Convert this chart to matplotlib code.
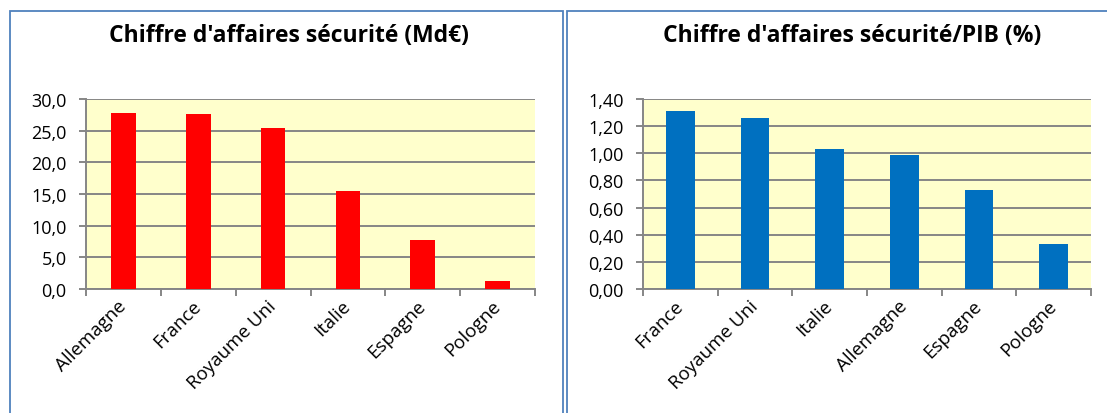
import matplotlib
matplotlib.use('Agg')
import matplotlib.pyplot as plt
import matplotlib.transforms as mtransforms
from matplotlib.patches import Rectangle
from matplotlib.ticker import FuncFormatter

plt.rcParams['font.family'] = ['Open Sans', 'DejaVu Sans']

# données
pays_ca = ["Allemagne", "France", "Royaume Uni", "Italie", "Espagne", "Pologne"]
ca_md = [27.8, 27.7, 25.4, 15.5, 7.7, 1.3]

pays_pib = ["France", "Royaume Uni", "Italie", "Allemagne", "Espagne", "Pologne"]
ca_pib = [1.31, 1.26, 1.03, 0.99, 0.73, 0.33]

W, H = 1107, 414
fig = plt.figure(figsize=(W / 100, H / 100), dpi=100)

border = "#4F81BD"
# cadres des deux graphiques (ils continuent sous le bas de l'image)
fig.patches.append(Rectangle((10 / W, -0.1), 553 / W, 1.1 - 12 / H, transform=fig.transFigure,
                             fill=False, edgecolor=border, linewidth=1.3))
fig.patches.append(Rectangle((567 / W, -0.1), 560 / W, 1.1 - 12 / H, transform=fig.transFigure,
                             fill=False, edgecolor=border, linewidth=1.3))


def draw(ax, labels, values, color, ymax, step, fmt, width, title, title_x):
    x = list(range(len(labels)))
    ax.set_facecolor("#FFFFCC")
    ax.set_axisbelow(True)
    ax.yaxis.grid(True, color="#868686", linewidth=1.4)
    ax.bar(x, values, width=width, color=color, zorder=3)
    ax.set_xlim(-0.5, len(labels) - 0.5)
    ax.set_ylim(0, ymax)
    ticks = [i * step for i in range(int(round(ymax / step)) + 1)]
    ax.set_yticks(ticks)
    ax.yaxis.set_major_formatter(FuncFormatter(lambda v, p: fmt.format(v).replace(".", ",")))
    ax.set_xticks([i - 0.5 for i in range(len(labels) + 1)])
    ax.set_xticklabels([])
    ax.set_xticks(x, minor=True)
    ax.set_xticklabels(labels, minor=True, rotation=45, ha="right", va="center",
                       rotation_mode="anchor", fontsize=13.5)
    # décalage des étiquettes comme dans Excel
    offset = mtransforms.ScaledTranslation(11 / 100, 0, fig.dpi_scale_trans)
    for lab in ax.get_xticklabels(minor=True):
        lab.set_transform(lab.get_transform() + offset)
    ax.tick_params(axis="x", which="minor", length=0, pad=10)
    ax.tick_params(axis="x", which="major", length=5, color="#868686", width=1.4)
    ax.tick_params(axis="y", length=5, color="#868686", width=1.4, labelsize=13, pad=9)
    for s in ["top", "right"]:
        ax.spines[s].set_visible(False)
    for s in ["left", "bottom"]:
        ax.spines[s].set_color("#868686")
        ax.spines[s].set_linewidth(1.4)
    fig.text(title_x, 1 - 36 / H, title, ha="center", va="center",
             fontsize=16.5, fontweight="bold")


ax1 = fig.add_axes([86 / W, 1 - 290 / H, 449 / W, 190 / H])
draw(ax1, pays_ca, ca_md, "#FF0000", 30, 5, "{:.1f}", 0.33,
     "Chiffre d'affaires sécurité (Md€)", 289 / W)

ax2 = fig.add_axes([643 / W, 1 - 290 / H, 448 / W, 190 / H])
draw(ax2, pays_pib, ca_pib, "#0070C0", 1.4, 0.2, "{:.2f}", 0.38,
     "Chiffre d'affaires sécurité/PIB (%)", 852 / W)

plt.savefig("out.png", dpi=100)
plt.close()
